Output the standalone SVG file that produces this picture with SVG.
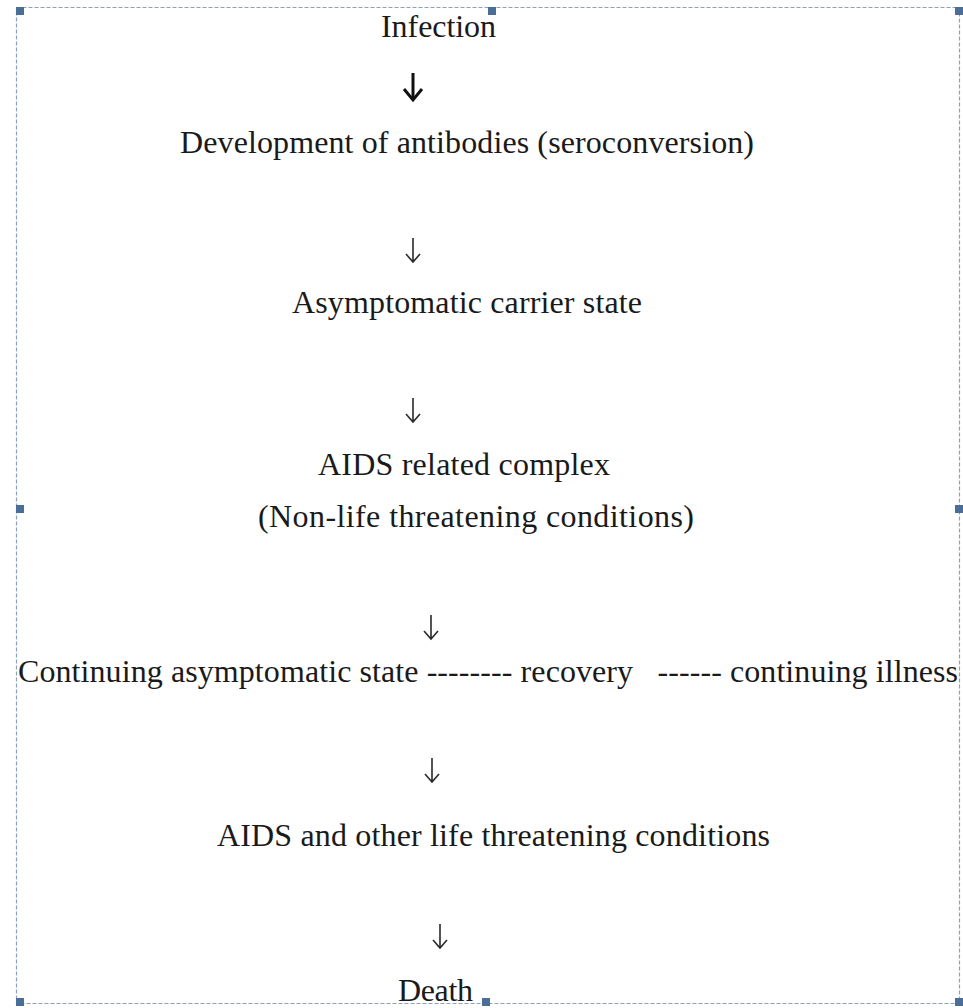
<svg xmlns="http://www.w3.org/2000/svg" width="963" height="1008" viewBox="0 0 963 1008">
<style>
.t{font-family:"Liberation Serif","Times New Roman",serif;font-size:32px;fill:#1a1a1a}
.h{fill:#4a6e98}
.a{stroke:#2a2a2a;stroke-width:1.6;fill:none}
</style>
<rect width="963" height="1008" fill="#ffffff"/>
<rect x="16.5" y="7.5" width="943" height="996" fill="none" stroke="#8aa2bc" stroke-width="1.2" stroke-dasharray="4,2"/>
<g id="handles">
<rect class="h" x="16" y="7" width="8" height="8"/>
<rect class="h" x="488" y="7" width="8" height="8"/>
<rect class="h" x="955" y="7" width="8" height="8"/>
<rect class="h" x="16" y="505" width="8" height="8"/>
<rect class="h" x="955" y="505" width="8" height="8"/>
<rect class="h" x="16" y="998" width="8" height="8"/>
<rect class="h" x="482" y="998" width="8" height="8"/>
<rect class="h" x="955" y="998" width="8" height="8"/>
</g>
<g id="connectors">
<path d="M413 73 V100" stroke="#111" stroke-width="3" fill="none"/>
<path d="M404 89 L413 100 L422 89" stroke="#111" stroke-width="3" fill="none"/>
<path class="a" d="M413 238 V262 M406 254 L413 262 L420 254"/>
<path class="a" d="M413 398 V422 M406 414 L413 422 L420 414"/>
<path class="a" d="M431 615 V639 M424 631 L431 639 L438 631"/>
<path class="a" d="M432 758 V782 M425 774 L432 782 L439 774"/>
<path class="a" d="M440 924 V948 M433 940 L440 948 L447 940"/>
</g>
<g id="n1"><text class="t" x="381" y="37" textLength="115">Infection</text></g>
<g id="n2"><text class="t" x="180" y="153" textLength="574">Development of antibodies (seroconversion)</text></g>
<g id="n3"><text class="t" x="292" y="313" textLength="350">Asymptomatic carrier state</text></g>
<g id="n4"><text class="t" x="318" y="475" textLength="292">AIDS related complex</text><text class="t" x="258" y="527" textLength="436">(Non-life threatening conditions)</text></g>
<g id="n5"><text class="t" x="18" y="682" textLength="940" xml:space="preserve">Continuing asymptomatic state -------- recovery   ------ continuing illness</text></g>
<g id="n6"><text class="t" x="217" y="846" textLength="553">AIDS and other life threatening conditions</text></g>
<g id="n7"><text class="t" x="398" y="1001" textLength="75">Death</text></g>
</svg>
